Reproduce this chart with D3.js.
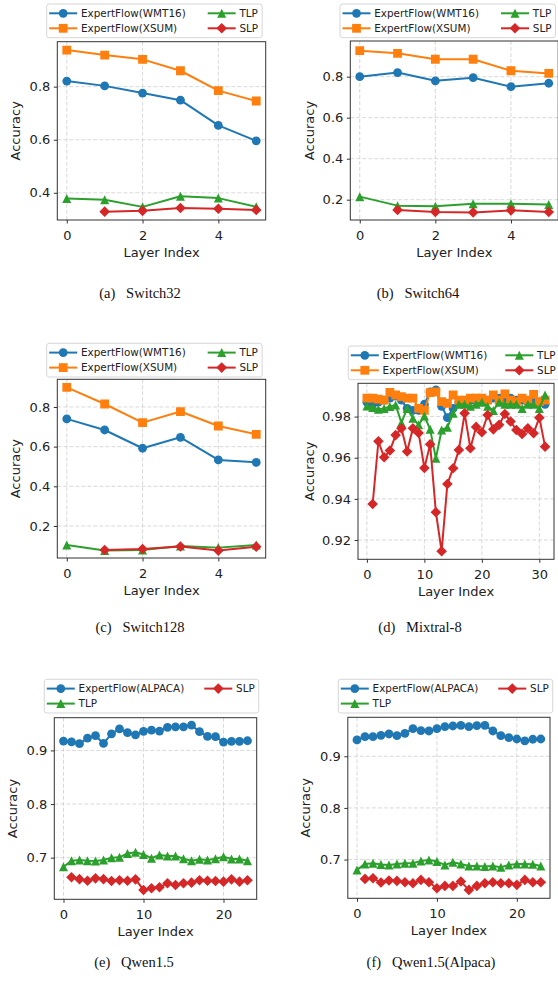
<!DOCTYPE html>
<html>
<head>
<meta charset="utf-8">
<script src="https://cdn.jsdelivr.net/npm/d3@7"></script>
<style>
  body { margin: 0; background: #fff; }
  svg { display: block; font-family: "DejaVu Sans", sans-serif; }
</style>
</head>
<body>
<div id="chart"></div>
<script>
// ---- data ----
// Switch models: 6 layers, SLP has no value for layer 0
const switchLayers = [0, 1, 2, 3, 4, 5];
const switchSlpLayers = [1, 2, 3, 4, 5];
const switchXTicks = [0, 2, 4];

const sw32Wmt = [0.821, 0.803, 0.776, 0.749, 0.654, 0.596];
const sw32Xsum = [0.938, 0.919, 0.903, 0.860, 0.785, 0.746];
const sw32Tlp = [0.379, 0.374, 0.347, 0.387, 0.380, 0.347];
const sw32Slp = [0.329, 0.332, 0.343, 0.340, 0.335];

const sw64Wmt = [0.800, 0.820, 0.780, 0.795, 0.751, 0.768];
const sw64Xsum = [0.927, 0.914, 0.885, 0.885, 0.829, 0.816];
const sw64Tlp = [0.215, 0.171, 0.168, 0.180, 0.180, 0.176];
const sw64Slp = [0.150, 0.140, 0.138, 0.148, 0.140];

const sw128Wmt = [0.740, 0.684, 0.592, 0.647, 0.533, 0.521];
const sw128Xsum = [0.899, 0.815, 0.721, 0.777, 0.704, 0.662];
const sw128Tlp = [0.104, 0.076, 0.079, 0.099, 0.091, 0.104];
const sw128Slp = [0.079, 0.084, 0.097, 0.076, 0.096];

// Mixtral-8: 32 layers
const mixXTicks = [0, 10, 20, 30];
const mixWmt = [0.987, 0.986, 0.987, 0.988, 0.989, 0.990, 0.988, 0.984, 0.983, 0.983, 0.986, 0.992, 0.993, 0.985, 0.9795, 0.984,
                0.987, 0.987, 0.988, 0.988, 0.988, 0.988, 0.989, 0.989, 0.989, 0.989, 0.988, 0.988, 0.987, 0.988, 0.987, 0.986];
const mixXsum = [0.989, 0.989, 0.9885, 0.988, 0.9918, 0.9905, 0.9897, 0.989, 0.989, 0.984, 0.983, 0.9917, 0.992, 0.9873, 0.9865, 0.9905,
                 0.988, 0.988, 0.989, 0.989, 0.989, 0.988, 0.9905, 0.988, 0.991, 0.988, 0.9873, 0.989, 0.988, 0.9908, 0.9873, 0.988];
const mixTlp = [0.9852, 0.9844, 0.9836, 0.984, 0.9849, 0.9857, 0.977, 0.984, 0.9792, 0.976, 0.9803, 0.9738, 0.9597, 0.9735, 0.9748, 0.9816,
                0.986, 0.986, 0.985, 0.986, 0.987, 0.985, 0.983, 0.987, 0.986, 0.986, 0.986, 0.984, 0.986, 0.986, 0.984, 0.9905];
const mixSlp = [0.9375, 0.968, 0.9602, 0.9635, 0.971, 0.9743, 0.963, 0.9743, 0.972, 0.955, 0.9665, 0.9335, 0.9145, 0.9472, 0.9549,
                0.9638, 0.9816, 0.9646, 0.975, 0.9724, 0.9808, 0.9738, 0.976, 0.9813, 0.9776, 0.9735, 0.9716, 0.9743, 0.9719, 0.9795, 0.9654];

// Qwen1.5: 24 layers
const qwenXTicks = [0, 10, 20];
const qwenAlpaca = [0.9175, 0.916, 0.9125, 0.923, 0.9275, 0.913, 0.931, 0.940, 0.933, 0.929, 0.9356, 0.938,
                    0.936, 0.943, 0.944, 0.944, 0.947, 0.935, 0.926, 0.9256, 0.9156, 0.917, 0.917, 0.918];
const qwenTlp = [0.683, 0.6944, 0.6957, 0.6944, 0.694, 0.6957, 0.700, 0.7006, 0.708, 0.710, 0.706, 0.699,
                 0.705, 0.703, 0.703, 0.698, 0.6944, 0.697, 0.6957, 0.698, 0.7019, 0.6975, 0.6975, 0.6944];
const qwenSlp = [0.6634, 0.660, 0.657, 0.6615, 0.660, 0.6565, 0.658, 0.657, 0.6596, 0.6398, 0.643, 0.645,
                 0.6522, 0.649, 0.6522, 0.6534, 0.658, 0.657, 0.6565, 0.6553, 0.6596, 0.6553, 0.658];

// Qwen1.5 (Alpaca)
const qwenAAlpaca = [0.9316, 0.938, 0.938, 0.9406, 0.9432, 0.940, 0.9445, 0.9535, 0.9497, 0.949, 0.9535, 0.9574,
                     0.9587, 0.960, 0.9574, 0.9594, 0.960, 0.949, 0.940, 0.936, 0.9335, 0.9297, 0.933, 0.9335];
const qwenATlp = [0.680, 0.6916, 0.693, 0.6903, 0.6897, 0.6916, 0.693, 0.693, 0.6974, 0.6994, 0.6961, 0.6897,
                  0.6948, 0.6916, 0.6877, 0.6877, 0.6865, 0.6877, 0.6852, 0.6897, 0.6916, 0.6916, 0.691, 0.6877];
const qwenASlp = [0.6626, 0.6639, 0.6555, 0.6594, 0.6587, 0.6561, 0.6542, 0.6606, 0.6561, 0.6445, 0.649, 0.649,
                  0.6574, 0.6413, 0.649, 0.6542, 0.6561, 0.6542, 0.6542, 0.651, 0.6606, 0.6561, 0.6561];

const switchYTicks = [0.2, 0.4, 0.6, 0.8];
const mixYTicks = [0.92, 0.94, 0.96, 0.98];
const qwenYTicks = [0.7, 0.8, 0.9];

const COLORS = { blue: "#1f77b4", orange: "#ff7f0e", green: "#2ca02c", red: "#d62728" };

// ---- helpers ----
function markerPath(type) {
    if (type === "circle") return d3.symbol(d3.symbolCircle, Math.PI * 4.4 * 4.4)();
    if (type === "square") return "M-4.4,-4.4H4.4V4.4H-4.4Z";
    if (type === "triangle") return "M0,-4.5L4.5,4.5L-4.5,4.5Z";
    return "M0,-5.3L5.3,0L0,5.3L-5.3,0Z";
}

// values start at layer `start`
function series(name, color, marker, values, start) {
    return { name, color, marker, points: values.map((v, i) => ({ x: i + start, y: v })) };
}

function switchSeries(wmt, xsum, tlp, slp) {
    return [
        series("ExpertFlow(WMT16)", COLORS.blue, "circle", wmt, switchLayers[0]),
        series("ExpertFlow(XSUM)", COLORS.orange, "square", xsum, switchLayers[0]),
        series("TLP", COLORS.green, "triangle", tlp, switchLayers[0]),
        series("SLP", COLORS.red, "diamond", slp, switchSlpLayers[0])
    ];
}

const panels = [
    { id: "a", frame: { x0: 57.3, x1: 265.7, y0: 41.7, y1: 220 }, xDomain: [-0.25, 5.25], yDomain: [0.2975, 0.9695],
      xTicks: switchXTicks, yTicks: switchYTicks.slice(1), yFmt: d3.format(".1f"),
      series: switchSeries(sw32Wmt, sw32Xsum, sw32Tlp, sw32Slp), legend: { x: 46.7, y: 4, gap: 22, cols: [[0, 1], [2, 3]] },
      ylabelOff: 41.6, caption: { label: "(a)", text: "Switch32", x: 140, y: 298 } },
    { id: "b", frame: { x0: 350.3, x1: 558.2, y0: 41, y1: 220 }, xDomain: [-0.25, 5.25], yDomain: [0.101, 0.974],
      xTicks: switchXTicks, yTicks: switchYTicks, yFmt: d3.format(".1f"),
      series: switchSeries(sw64Wmt, sw64Xsum, sw64Tlp, sw64Slp), legend: { x: 340, y: 4, gap: 22, cols: [[0, 1], [2, 3]] },
      ylabelOff: 41, caption: { label: "(b)", text: "Switch64", x: 418, y: 298 } },
    { id: "c", frame: { x0: 57.3, x1: 265.7, y0: 379.3, y1: 558 }, xDomain: [-0.25, 5.25], yDomain: [0.0387, 0.9395],
      xTicks: switchXTicks, yTicks: switchYTicks, yFmt: d3.format(".1f"),
      series: switchSeries(sw128Wmt, sw128Xsum, sw128Tlp, sw128Slp), legend: { x: 46.7, y: 343.3, gap: 22, cols: [[0, 1], [2, 3]] },
      ylabelOff: 41.6, caption: { label: "(c)", text: "Switch128", x: 140, y: 632 } },
    { id: "d", frame: { x0: 358, x1: 554, y0: 383.3, y1: 559.3 }, xDomain: [-1.55, 32.55], yDomain: [0.9106, 0.9962],
      xTicks: mixXTicks, yTicks: mixYTicks, yFmt: d3.format(".2f"),
      series: switchSeries(mixWmt, mixXsum, mixTlp, mixSlp), legend: { x: 348.3, y: 346, gap: 18, cols: [[0, 1], [2, 3]] },
      ylabelOff: 49, caption: { label: "(d)", text: "Mixtral-8", x: 420, y: 632 } },
    { id: "e", frame: { x0: 54.3, x1: 256.7, y0: 717.7, y1: 899.3 }, xDomain: [-1.15, 24.15], yDomain: [0.6224, 0.961],
      xTicks: qwenXTicks, yTicks: qwenYTicks, yFmt: d3.format(".1f"),
      series: [
          series("ExpertFlow(ALPACA)", COLORS.blue, "circle", qwenAlpaca, 0),
          series("TLP", COLORS.green, "triangle", qwenTlp, 0),
          series("SLP", COLORS.red, "diamond", qwenSlp, 1)
      ], legend: { x: 44.3, y: 679.3, gap: 20, cols: [[0, 1], [2]] },
      ylabelOff: 42, caption: { label: "(e)", text: "Qwen1.5", x: 134, y: 967 } },
    { id: "f", frame: { x0: 347.8, x1: 550, y0: 717.3, y1: 898.3 }, xDomain: [-1.15, 24.15], yDomain: [0.625, 0.9755],
      xTicks: qwenXTicks, yTicks: qwenYTicks, yFmt: d3.format(".1f"),
      series: [
          series("ExpertFlow(ALPACA)", COLORS.blue, "circle", qwenAAlpaca, 0),
          series("TLP", COLORS.green, "triangle", qwenATlp, 0),
          series("SLP", COLORS.red, "diamond", qwenASlp, 1)
      ], legend: { x: 338.3, y: 679.3, gap: 20, cols: [[0, 1], [2]] },
      ylabelOff: 42.3, caption: { label: "(f)", text: "Qwen1.5(Alpaca)", x: 431, y: 967 } }
];

const svg = d3.select("#chart").append("svg")
    .attr("width", 558)
    .attr("height", 985);
svg.append("rect").attr("width", 558).attr("height", 985).attr("fill", "#fff");

function drawPanel(p) {
    const f = p.frame;
    const x = d3.scaleLinear().domain(p.xDomain).range([f.x0, f.x1]);
    const y = d3.scaleLinear().domain(p.yDomain).range([f.y1, f.y0]);
    const g = svg.append("g").attr("class", "panel-" + p.id);

    svg.append("clipPath").attr("id", "clip-" + p.id)
      .append("rect").attr("x", f.x0).attr("y", f.y0).attr("width", f.x1 - f.x0).attr("height", f.y1 - f.y0);

    // dashed grid
    const grid = g.append("g").attr("stroke", "#cfcfcf").attr("stroke-width", 0.8).attr("stroke-dasharray", "4,2");
    grid.selectAll(".gx").data(p.xTicks).join("line")
        .attr("x1", d => x(d)).attr("x2", d => x(d)).attr("y1", f.y0).attr("y2", f.y1);
    grid.selectAll(".gy").data(p.yTicks).join("line")
        .attr("x1", f.x0).attr("x2", f.x1).attr("y1", d => y(d)).attr("y2", d => y(d));

    // axes
    const xAxis = g.append("g")
        .attr("transform", `translate(0,${f.y1})`)
        .call(d3.axisBottom(x).tickValues(p.xTicks).tickFormat(d3.format("d"))
            .tickSize(3.5).tickPadding(7.3).tickSizeOuter(0));
    const yAxis = g.append("g")
        .attr("transform", `translate(${f.x0},0)`)
        .call(d3.axisLeft(y).tickValues(p.yTicks).tickFormat(p.yFmt).tickSize(3.5).tickPadding(3.5).tickSizeOuter(0));
    [xAxis, yAxis].forEach(a => {
        a.select(".domain").remove();
        a.selectAll(".tick line").attr("stroke", "#333");
        a.selectAll("text").attr("fill", "#222").style("font-size", "13px").style("font-family", "DejaVu Sans");
    });

    // series
    const plot = g.append("g").attr("clip-path", `url(#clip-${p.id})`);
    const line = d3.line().x(d => x(d.x)).y(d => y(d.y));
    p.series.forEach(s => {
        const sg = plot.append("g");
        sg.append("path").datum(s.points)
            .attr("d", line).attr("fill", "none")
            .attr("stroke", s.color).attr("stroke-width", 2).attr("stroke-linejoin", "round");
        sg.selectAll(".m").data(s.points).join("path")
            .attr("transform", d => `translate(${x(d.x)},${y(d.y)})`)
            .attr("d", markerPath(s.marker)).attr("fill", s.color);
    });

    // frame
    g.append("rect").attr("x", f.x0).attr("y", f.y0).attr("width", f.x1 - f.x0).attr("height", f.y1 - f.y0)
        .attr("fill", "none").attr("stroke", "#333").attr("stroke-width", 1);

    // axis labels
    g.append("text")
        .attr("transform", `translate(${f.x0 - p.ylabelOff},${(f.y0 + f.y1) / 2}) rotate(-90)`)
        .attr("dy", "0.35em").attr("text-anchor", "middle")
        .style("font-size", "13px").attr("fill", "#222").text("Accuracy");
    g.append("text")
        .attr("x", (f.x0 + f.x1) / 2).attr("y", f.y1 + 37)
        .attr("text-anchor", "middle").style("font-size", "13px").attr("fill", "#222").text("Layer Index");

    // legend
    const lg = g.append("g").attr("transform", `translate(${p.legend.x},${p.legend.y})`);
    const box = lg.append("rect").attr("rx", 2.5).attr("fill", "#fff").attr("fill-opacity", 0.8)
        .attr("stroke", "#cccccc").attr("stroke-width", 0.8);
    const rowY = [9.3, 24.3];
    let colX = 2.5;
    let boxW = 0;
    p.legend.cols.forEach(col => {
        let maxW = 0;
        col.forEach((si, r) => {
            const s = p.series[si];
            const eg = lg.append("g").attr("transform", `translate(${colX},${rowY[r]})`);
            eg.append("line").attr("x1", 0).attr("x2", 28).attr("stroke", s.color).attr("stroke-width", 2);
            eg.append("path").attr("transform", "translate(14,0)").attr("d", markerPath(s.marker)).attr("fill", s.color);
            const t = eg.append("text").attr("x", 31.8).attr("dy", "0.35em")
                .style("font-size", "10.4px").attr("fill", "#222").text(s.name);
            maxW = Math.max(maxW, t.node().getComputedTextLength());
        });
        boxW = colX + 31.8 + maxW + 4;
        colX = colX + 31.8 + maxW + p.legend.gap;
    });
    box.attr("width", boxW).attr("height", 33.7);

    // caption
    svg.append("text")
        .attr("x", p.caption.x).attr("y", p.caption.y)
        .attr("text-anchor", "middle")
        .style("font-family", "'Liberation Serif', serif").style("font-size", "14.5px").attr("fill", "#111")
        .style("white-space", "pre")
        .text(p.caption.label + "\u2002 " + p.caption.text);
}

panels.forEach(drawPanel);
</script>
</body>
</html>
